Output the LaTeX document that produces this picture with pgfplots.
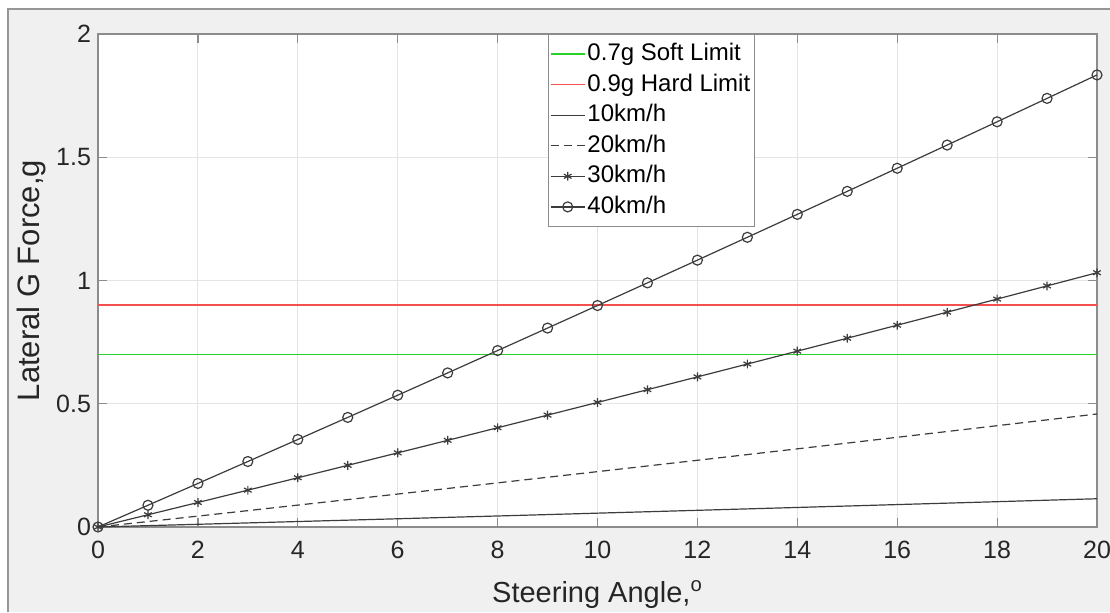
\documentclass[border=0pt]{standalone}
\usepackage{fontspec}
\setmainfont{Liberation Sans}
\usepackage{pgfplots}
\pgfplotsset{compat=1.18}

\definecolor{figbg}{RGB}{240,240,240}
\definecolor{figedge}{RGB}{150,150,150}
\definecolor{axgray}{RGB}{140,140,140}
\definecolor{gridgray}{RGB}{228,228,228}
\definecolor{txt}{RGB}{38,38,38}
\definecolor{curve}{RGB}{60,60,60}
\definecolor{softgreen}{RGB}{40,210,40}
\definecolor{limitred}{RGB}{245,80,80}

\begin{document}
\begin{tikzpicture}
% figure window (1 px = 0.5pt, axis origin at px (98,527))
\path[use as bounding box] (-49pt,-42.5pt) rectangle (506pt,263.5pt);
\fill[figbg] (-45pt,-42.5pt) rectangle (506pt,259pt);
\draw[figedge, line width=1pt] (-45pt,-42.5pt) -- (-45pt,259pt) -- (506pt,259pt);

\begin{axis}[
  at={(0,0)}, anchor=origin,
  scale only axis,
  width=499.5pt, height=246.5pt,
  xmin=0, xmax=20, ymin=0, ymax=2,
  xtick={0,2,...,20},
  ytick={0,0.5,1,1.5,2},
  yticklabels={0,0.5,1,1.5,2},
  axis background/.style={fill=white},
  axis line style={axgray, line width=0.7pt},
  tick style={axgray, line width=0.6pt},
  major tick length=4.5pt,
  tick align=inside,
  grid=major,
  major grid style={gridgray, line width=0.5pt},
  ticklabel style={font=\fontsize{12.5}{14}\selectfont, text=txt},
  /pgf/number format/assume math mode=true,
  xticklabel style={yshift=-3.5pt},
  xlabel={Steering Angle,\textsuperscript{o}},
  ylabel={Lateral G Force,g},
  xlabel style={font=\fontsize{14.5}{16}\selectfont, text=txt,
    at={([yshift=-37.5pt]axis description cs:0.5,0)}, anchor=base},
  ylabel style={font=\fontsize{15.5}{17}\selectfont, text=txt,
    at={([xshift=-29pt]axis description cs:0,0.5)}, anchor=base},
  clip=false,
  legend style={
    at={(0.45,1)}, anchor=north west,
    draw=axgray, fill=white,
    font=\fontsize{12}{14}\selectfont, text=black,
    nodes={inner sep=1pt, text height=9pt, text depth=2.5pt},
    row sep=1.8pt,
    inner xsep=1pt, inner ysep=3pt,
  },
  legend cell align=left,
]
\addplot[draw=softgreen, line width=0.7pt] coordinates {(0,0.7) (20,0.7)};
\addlegendentry{0.7g Soft Limit}
\addplot[draw=limitred, line width=0.7pt] coordinates {(0,0.9) (10,0.9) (20,0.9)};
\addlegendentry{0.9g Hard Limit}

\addplot[curve, line width=0.6pt] coordinates {
(0,0) (1,0.0055) (2,0.0110) (3,0.0166) (4,0.0222) (5,0.0278) (6,0.0334)
(7,0.0391) (8,0.0447) (9,0.0504) (10,0.0562) (11,0.0619) (12,0.0677)
(13,0.0735) (14,0.0793) (15,0.0851) (16,0.0910) (17,0.0968) (18,0.1027)
(19,0.1087) (20,0.1146)};
\addlegendentry{10km/h}

\addplot[curve, line width=0.6pt, dash pattern=on 4pt off 2.5pt] coordinates {
(0,0) (1,0.0221) (2,0.0442) (3,0.0664) (4,0.0888) (5,0.1112) (6,0.1337)
(7,0.1563) (8,0.1790) (9,0.2018) (10,0.2246) (11,0.2476) (12,0.2707)
(13,0.2938) (14,0.3171) (15,0.3404) (16,0.3639) (17,0.3874) (18,0.4110)
(19,0.4347) (20,0.4585)};
\addlegendentry{20km/h}

\addplot[curve, line width=0.6pt, mark=asterisk, mark size=2.2pt,
  mark options={solid, line width=0.6pt}] coordinates {
(0,0) (1,0.0496) (2,0.0994) (3,0.1495) (4,0.1997) (5,0.2501) (6,0.3008)
(7,0.3516) (8,0.4026) (9,0.4539) (10,0.5054) (11,0.5571) (12,0.6090)
(13,0.6611) (14,0.7134) (15,0.7659) (16,0.8187) (17,0.8716) (18,0.9247)
(19,0.9781) (20,1.0316)};
\addlegendentry{30km/h}

\addplot[curve, line width=0.6pt, mark=o, mark size=2.5pt,
  mark options={solid, line width=0.6pt}] coordinates {
(0,0) (1,0.0882) (2,0.1767) (3,0.2657) (4,0.3550) (5,0.4446) (6,0.5347)
(7,0.6251) (8,0.7158) (9,0.8070) (10,0.8985) (11,0.9904) (12,1.0826)
(13,1.1753) (14,1.2683) (15,1.3616) (16,1.4554) (17,1.5495) (18,1.6439)
(19,1.7388) (20,1.8340)};
\addlegendentry{40km/h}
\end{axis}
\end{tikzpicture}
\end{document}
